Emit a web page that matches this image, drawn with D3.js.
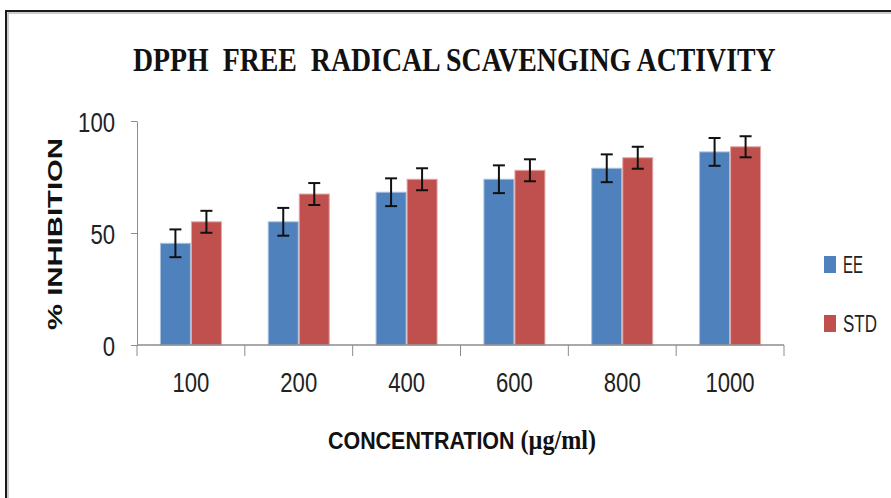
<!DOCTYPE html>
<html>
<head>
<meta charset="utf-8">
<script src="https://cdn.jsdelivr.net/npm/d3@7"></script>
<style>
  html, body { margin: 0; padding: 0; background: #fff; }
  svg { display: block; }
</style>
</head>
<body>
<svg id="chart" width="891" height="498"></svg>
<script>
const categories = ["100", "200", "400", "600", "800", "1000"];
const seriesNames = ["EE", "STD"];
const eeValues  = [45.4, 55.0, 68.2, 74.0, 78.9, 86.2];
const stdValues = [55.0, 67.4, 74.0, 78.0, 83.6, 88.5];
const eeErrors  = [6.2, 6.2, 6.2, 6.2, 6.2, 6.2];
const stdErrors = [4.9, 4.9, 4.9, 4.9, 4.9, 4.7];
const yTicks = [0, 50, 100];
const colors = { EE: "#4F81BD", STD: "#C0504D" };
const strokes = { EE: "#A7C0DE", STD: "#E0A9A7" };

const svg = d3.select("#chart");

// squeeze a text horizontally to a target width, left edge at x, baseline at y
function fitText(sel, x, y, target) {
  const w = sel.node().getComputedTextLength();
  const s = target / w;
  sel.attr("x", 0).attr("y", 0)
     .attr("transform", `translate(${x},${y}) scale(${s},1)`);
}

// outer frame
svg.append("rect").attr("x", 6).attr("y", 11).attr("width", 1000).attr("height", 1000)
  .attr("fill", "none").attr("stroke", "#1a1a1a").attr("stroke-width", 2);
svg.append("rect").attr("x", 8).attr("y", 13).attr("width", 1000).attr("height", 1000)
  .attr("fill", "none").attr("stroke", "#9a9a9a").attr("stroke-width", 1);

const plot = { left: 137, right: 784, top: 121, bottom: 345 };

const x0 = d3.scaleBand().domain(categories)
  .range([plot.left, plot.right]).paddingInner(0.425).paddingOuter(0.2125);
const x1 = d3.scaleBand().domain(seriesNames).range([0, x0.bandwidth()]);
const y = d3.scaleLinear().domain([0, 100]).range([plot.bottom, plot.top]);

const rows = categories.map((c, i) => ({
  cat: c,
  vals: [
    { key: "EE", v: eeValues[i], e: eeErrors[i] },
    { key: "STD", v: stdValues[i], e: stdErrors[i] }
  ]
}));

// bars
const g = svg.append("g");
const groups = g.selectAll("g.cat").data(rows).join("g")
  .attr("transform", d => `translate(${x0(d.cat)},0)`);
groups.selectAll("rect").data(d => d.vals).join("rect")
  .attr("x", d => x1(d.key) + 0.5)
  .attr("width", x1.bandwidth() - 1)
  .attr("y", d => y(d.v))
  .attr("height", d => y(0) - y(d.v))
  .attr("fill", d => colors[d.key])
  .attr("stroke", d => strokes[d.key])
  .attr("stroke-width", 1);

// error bars
const capW = 12;
groups.selectAll("g.err").data(d => d.vals).join("g").attr("class", "err")
  .each(function(d) {
    const cx = x1(d.key) + x1.bandwidth() / 2;
    const s = d3.select(this);
    s.append("line").attr("x1", cx).attr("x2", cx)
      .attr("y1", y(d.v + d.e)).attr("y2", y(d.v - d.e));
    s.append("line").attr("x1", cx - capW / 2).attr("x2", cx + capW / 2)
      .attr("y1", y(d.v + d.e)).attr("y2", y(d.v + d.e));
    s.append("line").attr("x1", cx - capW / 2).attr("x2", cx + capW / 2)
      .attr("y1", y(d.v - d.e)).attr("y2", y(d.v - d.e));
  })
  .selectAll("line").attr("stroke", "#111").attr("stroke-width", 2);

// y axis
const axisColor = "#8c8c8c";
const yAxis = svg.append("g").attr("transform", `translate(${plot.left},0)`)
  .call(d3.axisLeft(y).tickValues(yTicks).tickSize(6).tickPadding(16).tickSizeOuter(0));
yAxis.select(".domain").attr("stroke", axisColor);
yAxis.selectAll(".tick line").attr("stroke", axisColor);
yAxis.selectAll(".tick text")
  .attr("font-family", "'Liberation Sans', Arial, sans-serif")
  .attr("font-size", 28).attr("fill", "#222")
  .attr("dy", "0.36em")
  .attr("textLength", d => String(d).length * 12.3)
  .attr("lengthAdjust", "spacingAndGlyphs");

// x axis line with boundary ticks
const xAxisG = svg.append("g");
xAxisG.append("line").attr("x1", plot.left).attr("x2", plot.right)
  .attr("y1", y(0)).attr("y2", y(0)).attr("stroke", axisColor).attr("stroke-width", 1.5);
const boundaries = d3.range(categories.length + 1).map(i => plot.left + i * x0.step());
xAxisG.selectAll("line.bt").data(boundaries).join("line").attr("class", "bt")
  .attr("x1", d => d).attr("x2", d => d)
  .attr("y1", y(0)).attr("y2", y(0) + 11)
  .attr("stroke", axisColor).attr("stroke-width", 1);
xAxisG.selectAll("text.xl").data(categories).join("text").attr("class", "xl")
  .attr("x", d => x0(d) + x0.bandwidth() / 2)
  .attr("y", 392)
  .attr("text-anchor", "middle")
  .attr("font-family", "'Liberation Sans', Arial, sans-serif")
  .attr("font-size", 28).attr("fill", "#222")
  .attr("textLength", d => d.length * 12.3)
  .attr("lengthAdjust", "spacingAndGlyphs")
  .text(d => d);

// title
const title = svg.append("text")
  .attr("font-family", "'Liberation Serif', 'Times New Roman', serif")
  .attr("font-weight", "bold").attr("font-size", 33).attr("fill", "#111")
  .attr("xml:space", "preserve")
  .text("DPPH  FREE  RADICAL SCAVENGING ACTIVITY");
fitText(title, 133, 71, 643);

// x axis title (sans + serif parts in one text)
const xt = svg.append("text")
  .attr("font-weight", "bold").attr("fill", "#111").attr("xml:space", "preserve");
xt.append("tspan")
  .attr("font-family", "'Liberation Sans', Arial, sans-serif").attr("font-size", 24)
  .text("CONCENTRATION ");
xt.append("tspan")
  .attr("font-family", "'Liberation Serif', 'Times New Roman', serif").attr("font-size", 27)
  .text("(µg/ml)");
fitText(xt, 328, 449, 268);

// y axis title
const yt = svg.append("text")
  .attr("font-family", "'Liberation Sans', Arial, sans-serif")
  .attr("font-weight", "bold").attr("font-size", 21).attr("fill", "#111")
  .text("% INHIBITION");
{
  const w = yt.node().getComputedTextLength();
  const s = 192 / w;
  yt.attr("text-anchor", "middle")
    .attr("transform", `translate(62,234) rotate(-90) scale(${s},1)`);
}

// legend
const legendY = [256, 315];
const legendW = { EE: 20, STD: 34 };
const leg = svg.append("g");
seriesNames.forEach((k, i) => {
  leg.append("rect").attr("x", 824).attr("y", legendY[i]).attr("width", 12).attr("height", 17)
    .attr("fill", colors[k]);
  const t = leg.append("text")
    .attr("font-family", "'Liberation Sans', Arial, sans-serif")
    .attr("font-size", 24).attr("fill", "#222")
    .text(k);
  fitText(t, 843, legendY[i] + 17, legendW[k]);
});
</script>
</body>
</html>
